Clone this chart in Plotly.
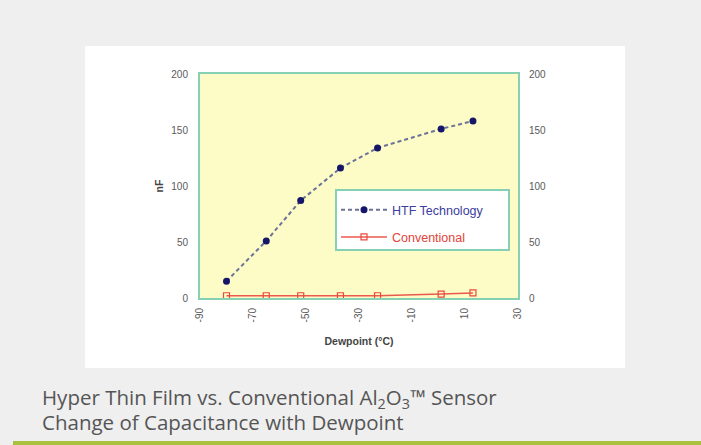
import plotly.graph_objects as go

dewpoint_htf = [-80, -65, -52, -37, -23, 1, 13]
htf_nf = [15, 51, 87, 116, 134, 151, 158]
dewpoint_conv = [-80, -65, -52, -37, -23, 1, 13]
conv_nf = [2, 2, 2, 2, 2, 3.5, 4.5]
x_ticks = [-90, -70, -50, -30, -10, 10, 30]
y_ticks = [0, 50, 100, 150, 200]

W, H = 701, 445
L, R, T, B = 200, 518, 74, 298  # plot area pixels


def px(x):
    return (x - L) / (R - L)


def py(y):
    return (B - y) / (B - T)


MINT = "#86d0b4"
fig = go.Figure()
fig.add_trace(go.Scatter(
    x=dewpoint_htf, y=htf_nf,
    name="<span style='color:#3b3ca0'>HTF Technology</span>",
    mode="lines+markers",
    line=dict(color="#6c7398", dash="4px,3px", width=2),
    marker=dict(color="#15166a", size=7, symbol="circle"),
    legendgroup="a",
))
fig.add_trace(go.Scatter(
    x=dewpoint_conv, y=conv_nf,
    name="<span style='color:#e2433a'>Conventional</span>",
    mode="lines+markers",
    line=dict(color="#ea5a4c", width=1.5),
    marker=dict(color="#ea4a3c", size=6, symbol="square-open", line=dict(width=1.2)),
    legendgroup="b",
))
fig.add_trace(go.Scatter(x=[], y=[], yaxis="y2", showlegend=False, hoverinfo="skip"))

tickfont = dict(family="Liberation Sans, Arial", size=10, color="#5a5a5a")
fig.update_layout(
    width=W, height=H,
    margin=dict(l=L, r=W - R, t=T, b=H - B, pad=0),
    paper_bgcolor="#efefef",
    plot_bgcolor="rgba(0,0,0,0)",
    showlegend=True,
    legend=dict(
        x=px(336), y=py(195), xanchor="left", yanchor="top",
        bgcolor="rgba(0,0,0,0)", borderwidth=0,
        font=dict(family="Liberation Sans, Arial", size=12.5),
        tracegroupgap=8, traceorder="grouped", itemwidth=46,
    ),
    xaxis=dict(
        range=[-90, 30], tickvals=x_ticks, ticktext=[str(v) for v in x_ticks],
        tickangle=-90, tickfont=tickfont, showgrid=False, zeroline=False,
        showline=True, linecolor=MINT, linewidth=2, mirror=True,
        ticks="outside", ticklen=4, tickcolor="rgba(0,0,0,0)",
        title=dict(text="<b>Dewpoint (°C)</b>", standoff=16,
                   font=dict(family="Liberation Sans, Arial", size=10.5, color="#444444")),
    ),
    yaxis=dict(
        range=[0, 200], tickvals=y_ticks, tickfont=tickfont, showgrid=False,
        zeroline=False, showline=True, linecolor=MINT, linewidth=2, mirror=True,
        ticks="outside", ticklen=8, tickcolor="rgba(0,0,0,0)",
        title=dict(text="<b>nF</b>", standoff=6,
                   font=dict(family="Liberation Sans, Arial", size=10.5, color="#444444")),
    ),
    yaxis2=dict(
        range=[0, 200], tickvals=y_ticks, tickfont=tickfont, overlaying="y",
        side="right", anchor="x", showgrid=False, zeroline=False, showline=False,
        ticks="outside", ticklen=8, tickcolor="rgba(0,0,0,0)",
    ),
    shapes=[
        dict(type="rect", xref="paper", yref="paper", layer="below",
             x0=px(85), x1=px(625), y0=py(368), y1=py(46),
             fillcolor="white", line=dict(width=0)),
        dict(type="rect", xref="paper", yref="paper", layer="below",
             x0=0, x1=1, y0=0, y1=1,
             fillcolor="#fdfbc6", line=dict(width=0)),
        dict(type="rect", xref="paper", yref="paper", layer="below",
             x0=px(13), x1=px(701), y0=py(445), y1=py(441),
             fillcolor="#a9c23e", line=dict(width=0)),
        dict(type="rect", xref="paper", yref="paper", layer="above",
             x0=px(336), x1=px(509), y0=py(250), y1=py(190),
             fillcolor="white", line=dict(width=2, color=MINT)),
    ],
    annotations=[
        dict(text="Hyper Thin Film vs. Conventional Al<sub>2</sub>O<sub>3</sub>™ Sensor",
             xref="paper", yref="paper", x=px(40), y=py(398), xanchor="left",
             yanchor="middle", showarrow=False,
             font=dict(family="Open Sans", size=20.5, color="#555555")),
        dict(text="Change of Capacitance with Dewpoint",
             xref="paper", yref="paper", x=px(40), y=py(422), xanchor="left",
             yanchor="middle", showarrow=False,
             font=dict(family="Open Sans", size=20.5, color="#555555")),
    ],
)
fig.write_html("out.html", config={"displayModeBar": False},
               post_script="document.body.style.margin='0';")
